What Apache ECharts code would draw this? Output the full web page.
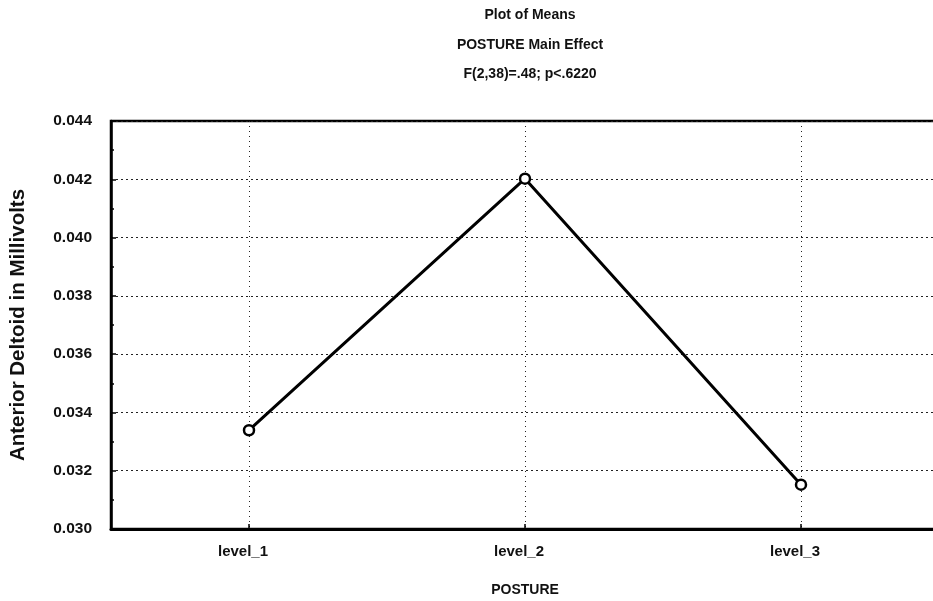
<!DOCTYPE html>
<html>
<head>
<meta charset="utf-8">
<script src="https://cdn.jsdelivr.net/npm/echarts@6/dist/echarts.min.js"></script>
<style>html,body{margin:0;padding:0;background:#fff;}#c{width:933px;height:601px;}</style>
</head>
<body>
<div id="c"></div>
<script>
const categories = ['level_1', 'level_2', 'level_3'];
const meanValues = [0.03339, 0.04202, 0.03152];
const titleLines = ['Plot of Means', 'POSTURE Main Effect', 'F(2,38)=.48; p<.6220'];
const yTicks = [0.030, 0.032, 0.034, 0.036, 0.038, 0.040, 0.042, 0.044];

const FONT = 'Liberation Sans';
const chart = echarts.init(document.getElementById('c'), null, {renderer: 'canvas'});
chart.setOption({
  animation: false,
  backgroundColor: '#fff',
  title: titleLines.map((t, i) => ({
    text: t, left: 525, top: 3.5 + i * 29.5, textAlign: 'center',
    textStyle: {fontFamily: FONT, fontWeight: 'bold', fontSize: 14, color: '#111'}
  })),
  grid: {left: 111, top: 121, width: 828, height: 408, outerBoundsMode: 'none', containLabel: false,
    show: true, borderColor: '#000', borderWidth: 2.5, backgroundColor: 'transparent'},
  xAxis: {
    type: 'category', data: categories, boundaryGap: true,
    name: 'POSTURE', nameLocation: 'middle', nameGap: 54,
    nameTextStyle: {fontFamily: FONT, fontWeight: 'bold', fontSize: 14, color: '#111'},
    axisLine: {show: true, lineStyle: {color: '#000', width: 3}},
    axisTick: {show: true, alignWithLabel: true, inside: true, length: 5, lineStyle: {color: '#000', width: 1.5}},
    axisLabel: {fontFamily: FONT, fontWeight: 'bold', fontSize: 15, color: '#111', margin: 15, padding: [0, 12, 0, 0]},
    splitLine: {show: true, alignWithLabel: true, lineStyle: {color: '#222', type: [1, 4], width: 1}}
  },
  yAxis: {
    type: 'value', min: 0.030, max: 0.044, interval: 0.002,
    name: 'Anterior Deltoid in Millivolts', nameLocation: 'middle', nameGap: 82, nameRotate: 90,
    nameTextStyle: {fontFamily: FONT, fontWeight: 'bold', fontSize: 20.5, color: '#111'},
    axisLine: {show: true, lineStyle: {color: '#000', width: 2.5}},
    axisTick: {show: true, inside: true, length: 5, lineStyle: {color: '#000', width: 1.5}},
    minorTick: {show: true, splitNumber: 2, length: 3, lineStyle: {color: '#000', width: 1.5}},
    axisLabel: {fontFamily: FONT, fontWeight: 'bold', fontSize: 15.5, color: '#111', margin: 19,
      formatter: v => v.toFixed(3)},
    splitLine: {show: true, lineStyle: {color: '#222', type: [2, 3], width: 1}}
  },
  series: [{
    type: 'line', data: meanValues,
    symbol: 'circle', symbolSize: 10,
    itemStyle: {color: '#fff', borderColor: '#000', borderWidth: 2.5},
    lineStyle: {color: '#000', width: 3},
    z: 5
  }]
});
</script>
</body>
</html>
